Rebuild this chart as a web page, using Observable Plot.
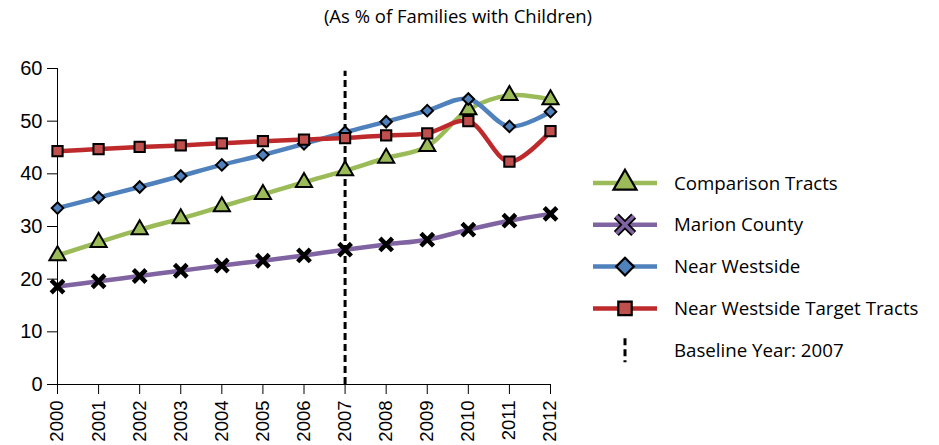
<!DOCTYPE html>
<html>
<head>
<meta charset="utf-8">
<script src="https://cdn.jsdelivr.net/npm/d3@7"></script>
<script src="https://cdn.jsdelivr.net/npm/@observablehq/plot@0.6"></script>
<style>
  html, body { margin: 0; padding: 0; background: #fff; }
  #wrap { position: relative; width: 939px; height: 445px; overflow: hidden; }
  #title { position: absolute; left: 0; width: 916px; top: 3px; text-align: center;
           font-family: "Open Sans", sans-serif; font-size: 18.5px; color: #000; }
  #chart { position: absolute; left: 0; top: 0; }
  #legend { position: absolute; left: 570px; top: 160px; }
</style>
</head>
<body>
<div id="wrap">
  <div id="chart"></div>
  <div id="title">(As % of Families with Children)</div>
  <svg id="legend" width="369" height="215"></svg>
</div>
<script>
const years = [2000, 2001, 2002, 2003, 2004, 2005, 2006, 2007, 2008, 2009, 2010, 2011, 2012];
const comparisonTracts = [24.5, 27.0, 29.4, 31.5, 33.8, 36.1, 38.4, 40.6, 43.0, 45.2, 52.2, 54.9, 54.1];
const marionCounty = [18.6, 19.6, 20.6, 21.6, 22.6, 23.5, 24.5, 25.6, 26.6, 27.5, 29.4, 31.1, 32.4];
const nearWestside = [33.5, 35.5, 37.5, 39.6, 41.7, 43.6, 45.7, 47.9, 49.9, 52.0, 54.2, 49.0, 51.8];
const nearWestsideTarget = [44.3, 44.7, 45.1, 45.4, 45.8, 46.2, 46.5, 46.8, 47.3, 47.7, 50.0, 42.3, 48.1];
const seriesNames = ["Comparison Tracts", "Marion County", "Near Westside", "Near Westside Target Tracts"];
const seriesValues = [comparisonTracts, marionCounty, nearWestside, nearWestsideTarget];
const baselineYear = [2007];
const baselineLabel = "Baseline Year: 2007";
const yTicks = [0, 10, 20, 30, 40, 50, 60];

// styles (kept apart from the data)
const styles = [
  {line: "#9BBB59", fill: "#9BBB59", symbol: "triangle", r: 6, stroke: "#000", sw: 2},
  {line: "#8064A2", fill: "none", symbol: "times", r: 5.8, stroke: "#000", sw: 4.5},
  {line: "#4F81BD", fill: "#4F81BD", symbol: "diamond2", r: 5.2, stroke: "#000", sw: 2},
  {line: "#BE2A2C", fill: "#C0504D", symbol: "square", r: 5.8, stroke: "#000", sw: 2}
];

const tables = seriesValues.map((vals, s) => years.map((year, i) => ({year, value: vals[i], series: seriesNames[s]})));

const seriesMarks = tables.flatMap((rows, s) => [
  Plot.line(rows, {x: "year", y: "value", stroke: styles[s].line, strokeWidth: 4.5, curve: "catmull-rom"}),
  Plot.dot(rows, {x: "year", y: "value", symbol: () => styles[s].symbol, r: styles[s].r,
    fill: styles[s].fill, stroke: styles[s].stroke, strokeWidth: styles[s].sw})
]);

const chart = Plot.plot({
  width: 939, height: 445,
  marginLeft: 57, marginRight: 389, marginTop: 68, marginBottom: 61,
  x: {domain: [2000, 2012], axis: null},
  y: {domain: [0, 60], axis: null},
  symbol: {type: "identity"},
  style: {fontFamily: "'Liberation Sans', Arial, sans-serif", fontSize: "18px", color: "#000", background: "transparent", overflow: "visible"},
  marks: [
    Plot.ruleX(baselineYear, {y1: 0, y2: 59.5, stroke: "#000", strokeWidth: 3, strokeDasharray: "7,4"}),
    Plot.ruleX([years[0]], {y1: 0, y2: yTicks[yTicks.length - 1], stroke: "#000", strokeWidth: 1}),
    Plot.ruleY([0], {x1: years[0], x2: years[years.length - 1], stroke: "#000", strokeWidth: 1}),
    Plot.axisY({ticks: yTicks, tickSize: 10, tickPadding: 5, label: null, fontSize: 20, stroke: "#000", strokeOpacity: 1}),
    Plot.axisX({ticks: years, tickSize: 10, tickPadding: 6, tickRotate: -90, tickFormat: d => String(d), label: null, fontSize: 18.5, stroke: "#000", strokeOpacity: 1}),
    ...seriesMarks
  ]
});
document.getElementById("chart").appendChild(chart);

// legend
const lg = d3.select("#legend");
const rowY = i => 23 + 41.8 * i;
seriesNames.forEach((name, s) => {
  const g = lg.append("g").attr("transform", `translate(0,${rowY(s)})`);
  g.append("line").attr("x1", 23).attr("x2", 87).attr("y1", 0).attr("y2", 0)
    .attr("stroke", styles[s].line).attr("stroke-width", 4.5);
  const st = styles[s];
  if (st.symbol === "times") {
    const p = d3.symbol(d3.symbolTimes, 200)();
    g.append("path").attr("d", p).attr("transform", "translate(55,0)").attr("stroke", "#000").attr("stroke-width", 7).attr("fill", "none");
    g.append("path").attr("d", p).attr("transform", "translate(55,0)").attr("stroke", st.line).attr("stroke-width", 3.5).attr("fill", "none");
  } else {
    const type = st.symbol === "triangle" ? d3.symbolTriangle : st.symbol === "square" ? d3.symbolSquare : d3.symbolDiamond2;
    const size = st.symbol === "triangle" ? 230 : st.symbol === "square" ? 180 : 200;
    g.append("path").attr("d", d3.symbol(type, size)()).attr("transform", "translate(55,0)")
      .attr("fill", st.fill).attr("stroke", "#000").attr("stroke-width", 2.2);
  }
  g.append("text").attr("x", 104).attr("y", 0).attr("dy", "0.35em")
    .attr("font-family", "'Open Sans', sans-serif").attr("font-size", 18.7).text(name);
});
{
  const g = lg.append("g").attr("transform", `translate(0,${rowY(4)})`);
  g.append("line").attr("x1", 55).attr("x2", 55).attr("y1", -12).attr("y2", 12)
    .attr("stroke", "#000").attr("stroke-width", 3).attr("stroke-dasharray", "7,4");
  g.append("text").attr("x", 104).attr("y", 0).attr("dy", "0.35em")
    .attr("font-family", "'Open Sans', sans-serif").attr("font-size", 18.7).text(baselineLabel);
}
</script>
</body>
</html>
